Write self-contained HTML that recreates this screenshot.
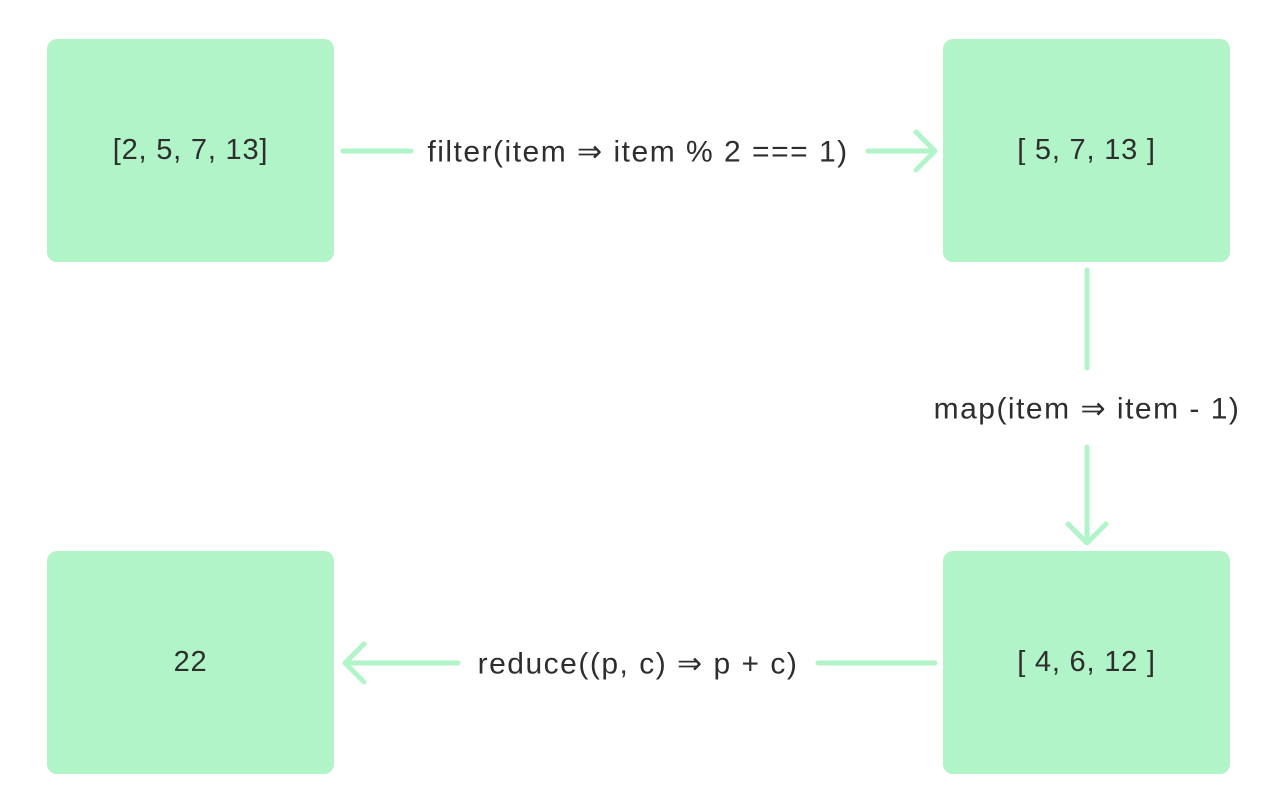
<!DOCTYPE html>
<html><head><style>
body{margin:0;width:1265px;height:809px;background:#fff;overflow:hidden;position:relative;font-family:"Liberation Sans",sans-serif;color:#2e2e2e}
.b{position:absolute;width:287px;height:223px;background:#b0f4c8;border-radius:10px;display:flex;align-items:center;justify-content:center;font-size:29px;letter-spacing:0.8px}
.t{position:absolute;font-size:30px;letter-spacing:1.5px;white-space:nowrap;transform:translate(-50%,-50%)}
svg{position:absolute;left:0;top:0}
</style></head><body>
<div class="b" style="left:47px;top:39px">[2, 5, 7, 13]</div>
<div class="b" style="left:943px;top:39px">[ 5, 7, 13 ]</div>
<div class="b" style="left:47px;top:551px">22</div>
<div class="b" style="left:943px;top:551px">[ 4, 6, 12 ]</div>
<svg width="1265" height="809" fill="none" stroke="#b0f4c8" stroke-width="5" stroke-linecap="round" stroke-linejoin="round">
<path d="M343 151H411M868 151H935M916 132L935 151L916 170"/>
<path d="M1087 270V368M1087 447V543M1068 524L1087 543L1106 524"/>
<path d="M818 663H935M345 663H458M364 644L345 663L364 682"/>
</svg>
<div class="t" style="left:638px;top:152px">filter(item ⇒ item % 2 === 1)</div>
<div class="t" style="left:1087px;top:409px">map(item ⇒ item - 1)</div>
<div class="t" style="left:638px;top:664px">reduce((p, c) ⇒ p + c)</div>
</body></html>
